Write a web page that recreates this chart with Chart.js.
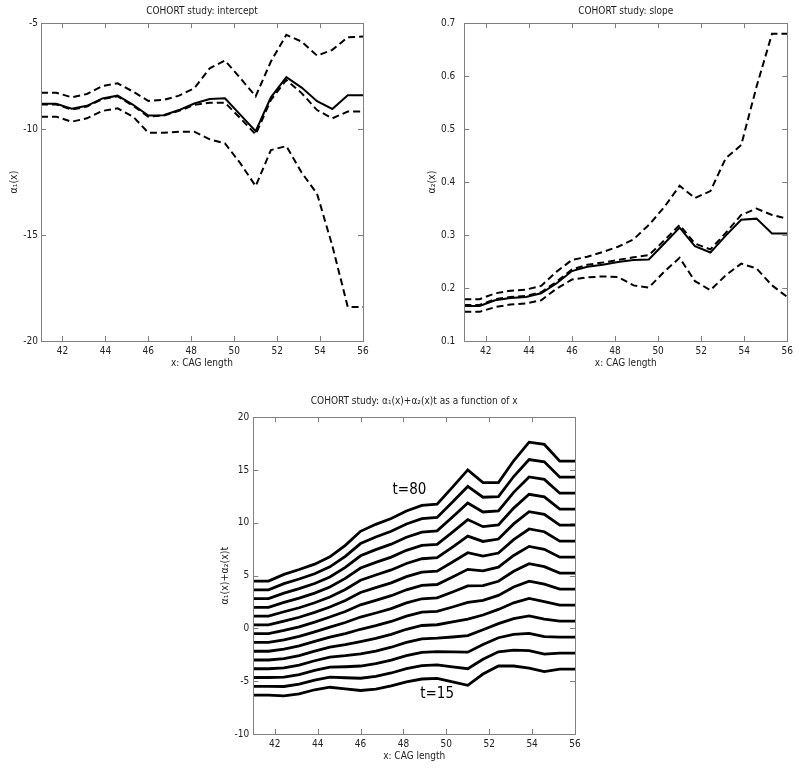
<!DOCTYPE html>
<html>
<head>
<meta charset="utf-8">
<script src="https://cdn.jsdelivr.net/npm/chart.js@4"></script>
<style>
  body { margin: 0; background: #fff; }
  #wrap { position: relative; width: 800px; height: 772px; overflow: hidden; }
  canvas { position: absolute; }
</style>
</head>
<body>
<div id="wrap">
  <canvas id="intercept" width="400" height="372" style="left:0;top:0"></canvas>
  <canvas id="slope" width="400" height="372" style="left:400px;top:0"></canvas>
  <canvas id="combined" width="400" height="387" style="left:200px;top:385px"></canvas>
</div>
<script>
// CAG length grid (x)
const cagLength = [41, 41.71, 42.43, 43.14, 43.86, 44.57, 45.29, 46, 46.71, 47.43, 48.14,
                   48.86, 49.57, 50.29, 51, 51.71, 52.43, 53.14, 53.86, 54.57, 55.29, 56];

// intercept alpha1(x): estimate and dashed bands
const interceptEst = [-8.80, -8.80, -9.04, -8.90, -8.55, -8.42, -8.85, -9.36, -9.34, -9.10, -8.79,
                      -8.58, -8.54, -9.33, -10.10, -8.50, -7.55, -8.04, -8.68, -9.05, -8.40, -8.40];
const interceptHi = [-8.28, -8.28, -8.50, -8.34, -7.96, -7.84, -8.23, -8.67, -8.62, -8.42, -8.07,
                     -7.13, -6.76, -7.60, -8.45, -6.81, -5.55, -5.87, -6.53, -6.26, -5.66, -5.63];
const interceptMid = [-8.84, -8.84, -9.08, -8.93, -8.58, -8.45, -8.90, -9.41, -9.36, -9.14, -8.86,
                      -8.75, -8.75, -9.49, -10.25, -8.62, -7.68, -8.30, -9.10, -9.49, -9.17, -9.17];
const interceptLo = [-9.41, -9.41, -9.65, -9.49, -9.14, -9.02, -9.41, -10.17, -10.17, -10.12, -10.12,
                     -10.48, -10.67, -11.62, -12.69, -10.99, -10.80, -12.05, -13.05, -15.50, -18.39, -18.39];

// slope alpha2(x): estimate and dashed bands
const slopeEst = [0.166, 0.166, 0.177, 0.181, 0.183, 0.190, 0.209, 0.232, 0.240, 0.244, 0.249,
                  0.253, 0.254, 0.284, 0.314, 0.279, 0.267, 0.299, 0.329, 0.331, 0.303, 0.303];
const slopeHi = [0.179, 0.179, 0.190, 0.195, 0.197, 0.204, 0.231, 0.253, 0.259, 0.268, 0.278,
                 0.292, 0.319, 0.353, 0.393, 0.370, 0.383, 0.445, 0.470, 0.580, 0.680, 0.680];
const slopeMid = [0.168, 0.168, 0.179, 0.183, 0.185, 0.192, 0.212, 0.235, 0.244, 0.248, 0.253,
                  0.258, 0.262, 0.290, 0.319, 0.284, 0.273, 0.304, 0.338, 0.350, 0.338, 0.331];
const slopeLo = [0.155, 0.155, 0.164, 0.169, 0.171, 0.177, 0.199, 0.216, 0.220, 0.222, 0.221,
                 0.205, 0.201, 0.231, 0.257, 0.213, 0.196, 0.224, 0.246, 0.237, 0.205, 0.183];

// alpha1(x)+alpha2(x)t, one curve per t
const tValues = [15, 20, 25, 30, 35, 40, 45, 50, 55, 60, 65, 70, 75, 80];
const curveT15 = [-6.31,-6.31,-6.39,-6.19,-5.81,-5.57,-5.72,-5.88,-5.74,-5.44,-5.06,-4.79,-4.73,-5.07,-5.39,-4.32,-3.55,-3.56,-3.75,-4.09,-3.86,-3.86];
const curveT20 = [-5.48,-5.48,-5.50,-5.28,-4.89,-4.62,-4.67,-4.72,-4.54,-4.22,-3.81,-3.52,-3.46,-3.65,-3.82,-2.92,-2.21,-2.06,-2.10,-2.43,-2.34,-2.34];
const curveT25 = [-4.65,-4.65,-4.62,-4.38,-3.98,-3.67,-3.63,-3.56,-3.34,-3.00,-2.57,-2.26,-2.19,-2.23,-2.25,-1.53,-0.88,-0.57,-0.46,-0.78,-0.83,-0.83];
const curveT30 = [-3.82,-3.82,-3.73,-3.47,-3.06,-2.72,-2.58,-2.40,-2.14,-1.78,-1.32,-0.99,-0.92,-0.81,-0.68,-0.13,0.46,0.93,1.19,0.88,0.69,0.69];
const curveT35 = [-2.99,-2.99,-2.85,-2.57,-2.15,-1.77,-1.54,-1.24,-0.94,-0.56,-0.08,0.28,0.35,0.61,0.89,1.27,1.80,2.43,2.84,2.54,2.21,2.21];
const curveT40 = [-2.16,-2.16,-1.96,-1.66,-1.23,-0.82,-0.49,-0.08,0.26,0.66,1.17,1.54,1.62,2.03,2.46,2.66,3.13,3.92,4.48,4.19,3.72,3.72];
const curveT45 = [-1.33,-1.33,-1.08,-0.76,-0.32,0.13,0.56,1.08,1.46,1.88,2.42,2.81,2.89,3.45,4.03,4.06,4.47,5.42,6.13,5.85,5.24,5.24];
const curveT50 = [-0.50,-0.50,-0.19,0.15,0.60,1.08,1.60,2.24,2.66,3.10,3.66,4.07,4.16,4.87,5.60,5.45,5.80,6.91,7.77,7.50,6.75,6.75];
const curveT55 = [0.33,0.33,0.70,1.06,1.52,2.03,2.65,3.40,3.86,4.32,4.91,5.34,5.43,6.29,7.17,6.85,7.14,8.41,9.42,9.16,8.27,8.27];
const curveT60 = [1.16,1.16,1.58,1.96,2.43,2.98,3.69,4.56,5.06,5.54,6.15,6.60,6.70,7.71,8.74,8.24,8.47,9.90,11.06,10.81,9.78,9.78];
const curveT65 = [1.99,1.99,2.47,2.87,3.35,3.93,4.74,5.72,6.26,6.76,7.40,7.87,7.97,9.13,10.31,9.64,9.81,11.40,12.71,12.47,11.30,11.30];
const curveT70 = [2.82,2.82,3.35,3.77,4.26,4.88,5.78,6.88,7.46,7.98,8.64,9.13,9.24,10.55,11.88,11.03,11.14,12.89,14.35,14.12,12.81,12.81];
const curveT75 = [3.65,3.65,4.24,4.68,5.18,5.83,6.83,8.04,8.66,9.20,9.89,10.40,10.51,11.97,13.45,12.43,12.48,14.39,16.00,15.78,14.33,14.33];
const curveT80 = [4.48,4.48,5.12,5.58,6.09,6.78,7.87,9.20,9.86,10.42,11.13,11.66,11.78,13.39,15.02,13.82,13.81,15.88,17.64,17.43,15.84,15.84];
const combinedCurves = [curveT15, curveT20, curveT25, curveT30, curveT35, curveT40, curveT45,
                        curveT50, curveT55, curveT60, curveT65, curveT70, curveT75, curveT80];

// tick labels
const xTicks = [42, 44, 46, 48, 50, 52, 54, 56];
const interceptTicks = [-20, -15, -10, -5];
const slopeTicks = [0.1, 0.2, 0.3, 0.4, 0.5, 0.6, 0.7];
const combinedTicks = [-10, -5, 0, 5, 10, 15, 20];

// curve labels in the bottom panel (data coordinates)
const curveNotes = [
  { text: 't=80', x: 48.28, y: 13.1 },
  { text: 't=15', x: 49.57, y: -6.2 }
];

const FONT = "'Liberation Sans Narrow', 'DejaVu Sans Condensed', sans-serif";
const TEXT = '#222';

function pts(ys) {
  return cagLength.map((x, i) => ({ x: x, y: ys[i] }));
}

function line(ys, dashed, width) {
  return {
    data: pts(ys),
    borderColor: '#000',
    borderWidth: width,
    borderDash: dashed ? [7, 4] : [],
    pointRadius: 0,
    tension: 0,
    fill: false
  };
}

// box + inward tick marks on all four sides, like the matlab axes
const matlabAxes = {
  id: 'matlabAxes',
  afterDatasetsDraw(chart) {
    const { ctx, chartArea: a, scales } = chart;
    const x = scales.x, y = scales.y;
    ctx.save();
    ctx.strokeStyle = '#808080';
    ctx.lineWidth = 1;
    ctx.strokeRect(Math.round(a.left) + 0.5, Math.round(a.top) + 0.5,
                   Math.round(a.right - a.left), Math.round(a.bottom - a.top));
    ctx.beginPath();
    x.ticks.forEach(t => {
      const px = Math.round(x.getPixelForValue(t.value)) + 0.5;
      ctx.moveTo(px, a.bottom); ctx.lineTo(px, a.bottom - 5);
      ctx.moveTo(px, a.top); ctx.lineTo(px, a.top + 5);
    });
    y.ticks.forEach(t => {
      const py = Math.round(y.getPixelForValue(t.value)) + 0.5;
      ctx.moveTo(a.left, py); ctx.lineTo(a.left + 5, py);
      ctx.moveTo(a.right, py); ctx.lineTo(a.right - 5, py);
    });
    ctx.stroke();
    const notes = chart.options.plugins.matlabAxes.notes || [];
    ctx.fillStyle = '#000';
    ctx.font = '15px ' + FONT;
    ctx.textAlign = 'center';
    ctx.textBaseline = 'middle';
    notes.forEach(n => ctx.fillText(n.text, x.getPixelForValue(n.x), y.getPixelForValue(n.y)));
    ctx.restore();
  }
};

function makeChart(id, cfg) {
  return new Chart(document.getElementById(id), {
    type: 'line',
    data: { datasets: cfg.datasets },
    plugins: [matlabAxes],
    options: {
      responsive: false,
      animation: false,
      devicePixelRatio: 1,
      layout: { padding: cfg.padding },
      plugins: {
        legend: { display: false },
        tooltip: { enabled: false },
        matlabAxes: { notes: cfg.notes || [] },
        title: {
          display: true,
          text: cfg.title,
          fullSize: false,
          color: TEXT,
          font: { family: FONT, size: 10, weight: 'normal' },
          padding: cfg.titlePad
        }
      },
      scales: {
        x: {
          type: 'linear',
          min: 41,
          max: 56,
          grid: { display: false, drawTicks: false },
          border: { display: false },
          afterBuildTicks: s => { s.ticks = xTicks.map(v => ({ value: v })); },
          afterFit: s => { s.height = cfg.xHeight; },
          ticks: { color: TEXT, font: { family: FONT, size: 10 }, padding: 4, maxRotation: 0 },
          title: {
            display: true,
            text: 'x: CAG length',
            color: TEXT,
            font: { family: FONT, size: 10 },
            padding: { top: 0, bottom: cfg.xTitleBottom }
          }
        },
        y: {
          type: 'linear',
          min: cfg.yMin,
          max: cfg.yMax,
          grid: { display: false, drawTicks: false },
          border: { display: false },
          afterBuildTicks: s => { s.ticks = cfg.yTicks.map(v => ({ value: v })); },
          afterFit: s => { s.width = cfg.yWidth; },
          ticks: { color: TEXT, font: { family: FONT, size: 10 }, padding: cfg.yTickPad },
          title: {
            display: true,
            text: cfg.yTitle,
            color: TEXT,
            font: { family: FONT, size: 10.5 },
            padding: { top: cfg.yTitlePad, bottom: 0 }
          }
        }
      }
    }
  });
}

makeChart('intercept', {
  title: 'COHORT study: intercept',
  datasets: [
    line(interceptHi, true, 2),
    line(interceptMid, true, 2),
    line(interceptLo, true, 2),
    line(interceptEst, false, 2)
  ],
  padding: { left: 0, right: 37, top: 0, bottom: 0 },
  titlePad: { top: 5.6, bottom: 5.6 },
  xHeight: 31, xTitleBottom: 3,
  yMin: -20, yMax: -5, yTicks: interceptTicks,
  yWidth: 41, yTickPad: 3, yTitle: 'α₁(x)', yTitlePad: 7.5
});

makeChart('slope', {
  title: 'COHORT study: slope',
  datasets: [
    line(slopeHi, true, 2),
    line(slopeMid, true, 2),
    line(slopeLo, true, 2),
    line(slopeEst, false, 2)
  ],
  padding: { left: 0, right: 12.7, top: 0, bottom: 0 },
  titlePad: { top: 5.6, bottom: 5.6 },
  xHeight: 31, xTitleBottom: 3,
  yMin: 0.1, yMax: 0.7, yTicks: slopeTicks,
  yWidth: 64.3, yTickPad: 9, yTitle: 'α₂(x)', yTitlePad: 26
});

makeChart('combined', {
  title: 'COHORT study: α₁(x)+α₂(x)t as a function of x',
  datasets: combinedCurves.map(c => line(c, false, 2.8)),
  notes: curveNotes,
  padding: { left: 0, right: 25, top: 0, bottom: 0 },
  titlePad: { top: 10.7, bottom: 9.6 },
  xHeight: 38, xTitleBottom: 10,
  yMin: -10, yMax: 20, yTicks: combinedTicks,
  yWidth: 53.3, yTickPad: 4, yTitle: 'α₁(x)+α₂(x)t', yTitlePad: 18.7
});
</script>
</body>
</html>
